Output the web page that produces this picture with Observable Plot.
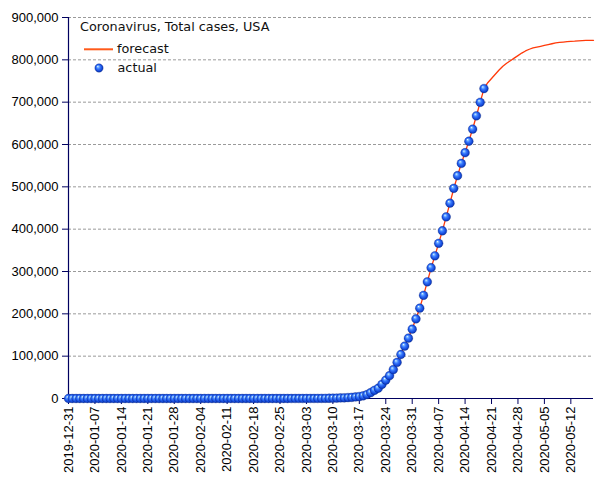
<!DOCTYPE html>
<html>
<head>
<meta charset="utf-8">
<script src="https://cdn.jsdelivr.net/npm/d3@7"></script>
<script src="https://cdn.jsdelivr.net/npm/@observablehq/plot@0.6"></script>
<style>
  html, body { margin: 0; padding: 0; background: #fff; }
  #chart { position: relative; width: 605px; height: 480px; }
</style>
</head>
<body>
<div id="chart"></div>
<script>
// ---- data ----
const titleText = "Coronavirus, Total cases, USA";
const legendLabels = ["forecast", "actual"];

const actualStart = "2019-12-31";
const actualValues = [
  // 2019-12-31 .. 2020-01-20
  0,0,0,0,0,0,0,0,0,0,0,0,0,0,0,0,0,0,0,0,0,
  // 2020-01-21 .. 01-31
  1,1,1,2,2,5,5,5,5,5,6,
  // 2020-02-01 .. 02-29
  7,8,11,11,11,12,12,12,12,12,12,13,13,14,15,15,15,15,15,15,15,35,35,35,53,53,59,60,62,
  // 2020-03-01 .. 03-31
  68,75,100,124,158,221,319,435,541,704,994,1301,1630,2183,2770,3613,4596,6344,9197,13779,
  19367,24192,33592,43505,53938,68211,85356,103942,123748,142553,163868,
  // 2020-04-01 .. 04-19
  188172,213372,243762,275586,308853,337072,366667,396223,429052,461437,496535,526396,
  555313,580619,607670,636350,667801,699706,732197
];

const forecastStart = "2020-03-01";
const forecastValues = [
  // 2020-03-01 .. 03-31
  100,130,170,230,300,400,520,690,900,1200,1600,2100,2800,3700,4900,6400,8400,11000,14500,
  19000,24500,31000,39000,48500,60000,73000,88000,105000,124000,144000,165000,
  // 2020-04-01 .. 04-30
  189000,214000,243500,275500,308000,337000,366500,396500,429000,461500,496000,526000,
  555000,581000,608000,636500,668000,699500,732000,746000,756000,766000,776000,785000,
  792000,798000,804000,810000,816000,821000,
  // 2020-05-01 .. 05-18
  825000,828000,830000,832000,834000,836000,838000,840000,841000,842000,843000,843500,
  844000,845000,845500,846000,846000,846000
];

const xTickLabels = ["2019-12-31","2020-01-07","2020-01-14","2020-01-21","2020-01-28",
  "2020-02-04","2020-02-11","2020-02-18","2020-02-25","2020-03-03","2020-03-10",
  "2020-03-17","2020-03-24","2020-03-31","2020-04-07","2020-04-14","2020-04-21",
  "2020-04-28","2020-05-05","2020-05-12"];
const yTicks = [0,100000,200000,300000,400000,500000,600000,700000,800000,900000];
const xDomain = ["2019-12-31", "2020-05-18"];

// ---- build tables ----
const parse = d3.utcParse("%Y-%m-%d");
const actual = actualValues.map((v, i) => ({date: d3.utcDay.offset(parse(actualStart), i), value: v}));
const forecast = forecastValues.map((v, i) => ({date: d3.utcDay.offset(parse(forecastStart), i), value: v}));
const xTicks = xTickLabels.map(parse);

const axisColor = "#000060";

const chart = Plot.plot({
  width: 605,
  height: 480,
  marginLeft: 68,
  marginRight: 12,
  marginTop: 17,
  marginBottom: 82,
  style: {fontFamily: "'Liberation Sans', Arial, sans-serif", fontSize: "13px", color: "#000", background: "#fff"},
  x: {type: "utc", domain: xDomain.map(parse)},
  y: {domain: [0, 900000]},
  marks: [
    Plot.ruleY(yTicks.filter(v => v > 0), {stroke: "#9a9a9a", strokeWidth: 1, strokeDasharray: "3,2"}),
    Plot.axisY({ticks: yTicks, tickFormat: d3.format(","), tickSize: 6, tickPadding: 4, stroke: axisColor, label: null, fontSize: 13}),
    Plot.axisX({ticks: xTicks, tickFormat: d3.utcFormat("%Y-%m-%d"), tickRotate: -90, tickSize: 6, tickPadding: 2, stroke: axisColor, label: null, fontSize: 13}),
    Plot.ruleX([parse(xDomain[0])], {stroke: axisColor, strokeWidth: 1.2}),
    Plot.ruleY([0], {stroke: axisColor, strokeWidth: 1.2}),
    Plot.line(forecast, {x: "date", y: "value", stroke: "#ff3a0a", strokeWidth: 1.3}),
    Plot.dot(actual, {x: "date", y: "value", r: 4.4, fill: "url(#ball)", stroke: "#0a2a90", strokeWidth: 0.3})
  ]
});

const svg = d3.select(chart);
const defs = svg.insert("defs", ":first-child");
const grad = defs.append("radialGradient").attr("id", "ball")
  .attr("cx", "50%").attr("cy", "50%").attr("r", "55%").attr("fx", "35%").attr("fy", "30%");
[["0%", "#ffffff"], ["15%", "#8cc4ff"], ["40%", "#3a7cff"], ["75%", "#1448d8"], ["100%", "#062a90"]]
  .forEach(([o, c]) => grad.append("stop").attr("offset", o).attr("stop-color", c));

// title + legend
const g = svg.append("g").attr("font-family", "'DejaVu Sans', sans-serif").attr("font-size", 12.8)
  .attr("fill", "#111").attr("text-anchor", "start");
g.append("text").attr("x", 80).attr("y", 30.5).attr("text-anchor", "start").text(titleText);
g.append("line").attr("x1", 84).attr("x2", 113).attr("y1", 49.3).attr("y2", 49.3)
  .attr("stroke", "#ff5a1a").attr("stroke-width", 2);
g.append("text").attr("x", 117).attr("y", 53.3).attr("text-anchor", "start").text(legendLabels[0]);
g.append("circle").attr("cx", 99).attr("cy", 68).attr("r", 4.2).attr("fill", "url(#ball)")
  .attr("stroke", "#0a2a90").attr("stroke-width", 0.3);
g.append("text").attr("x", 117.5).attr("y", 71.7).attr("text-anchor", "start").text(legendLabels[1]);

document.getElementById("chart").appendChild(chart);
</script>
</body>
</html>
